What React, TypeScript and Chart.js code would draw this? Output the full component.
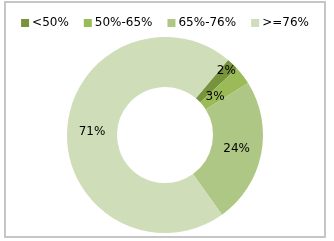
import React, { useEffect, useRef } from "react";
import { Chart, registerables } from "chart.js";

Chart.register(...registerables);

const categories = ["<50%", "50%-65%", "65%-76%", ">=76%"];
const values = [2, 3, 24, 71];
const colors = ["#77933C", "#9BBB59", "#AFC785", "#D0DDB9"];

const FONT = "12px 'DejaVu Sans'";

const legendPlugin = {
  id: "flatLegend",
  afterDraw(chart: any) {
    const ctx = chart.ctx;
    ctx.save();
    ctx.font = FONT;
    const box = 8;
    const gapText = 3;
    const gapItem = 15;
    const widths = categories.map((c) => box + gapText + ctx.measureText(c).width);
    const total = widths.reduce((a, b) => a + b, 0) + gapItem * (categories.length - 1);
    let x = (chart.width - total) / 2;
    const y = 20;
    ctx.textBaseline = "middle";
    ctx.textAlign = "left";
    categories.forEach((c, i) => {
      ctx.fillStyle = colors[i];
      ctx.fillRect(x, y - box / 2, box, box);
      ctx.fillStyle = "#000";
      ctx.fillText(c, x + box + gapText, y);
      x += widths[i] + gapItem;
    });
    ctx.restore();
  },
};

const labelPlugin = {
  id: "sliceLabels",
  afterDatasetsDraw(chart: any) {
    const ctx = chart.ctx;
    const meta = chart.getDatasetMeta(0);
    const total = values.reduce((a, b) => a + b, 0);
    ctx.save();
    ctx.font = FONT;
    ctx.fillStyle = "#000";
    ctx.textAlign = "center";
    ctx.textBaseline = "middle";
    let smallIdx = 0;
    meta.data.forEach((arc: any, i: number) => {
      const { x, y, startAngle, endAngle, innerRadius, outerRadius } = arc.getProps(
        ["x", "y", "startAngle", "endAngle", "innerRadius", "outerRadius"],
        true
      );
      const mid = (startAngle + endAngle) / 2;
      let r = (innerRadius + outerRadius) / 2;
      if (values[i] / total < 0.05) {
        const band = outerRadius - innerRadius;
        r = smallIdx % 2 === 0 ? outerRadius - band * 0.18 : innerRadius + band * 0.3;
        smallIdx++;
      }
      const pct = Math.round((values[i] / total) * 100) + "%";
      ctx.fillText(pct, x + Math.cos(mid) * r, y + Math.sin(mid) * r);
    });
    ctx.restore();
  },
};

export default function App() {
  const ref = useRef<HTMLCanvasElement>(null);
  useEffect(() => {
    const chart = new Chart(ref.current as HTMLCanvasElement, {
      type: "doughnut",
      data: {
        labels: categories,
        datasets: [
          {
            data: values,
            backgroundColor: colors,
            borderWidth: 0,
          },
        ],
      },
      options: {
        animation: false,
        responsive: false,
        rotation: 40,
        cutout: "49%",
        layout: { padding: { top: 34, bottom: 3, left: 0, right: 0 } },
        plugins: {
          tooltip: { enabled: false },
          legend: { display: false },
        },
      },
      plugins: [labelPlugin, legendPlugin],
    });
    return () => chart.destroy();
  }, []);
  return (
    <div
      style={{
        position: "fixed",
        left: 4,
        top: 1,
        width: 322,
        height: 237,
        boxSizing: "border-box",
        border: "2px solid #c6c6c6",
        background: "#fff",
      }}
    >
      <canvas ref={ref} width={318} height={233} style={{ display: "block" }} />
    </div>
  );
}
